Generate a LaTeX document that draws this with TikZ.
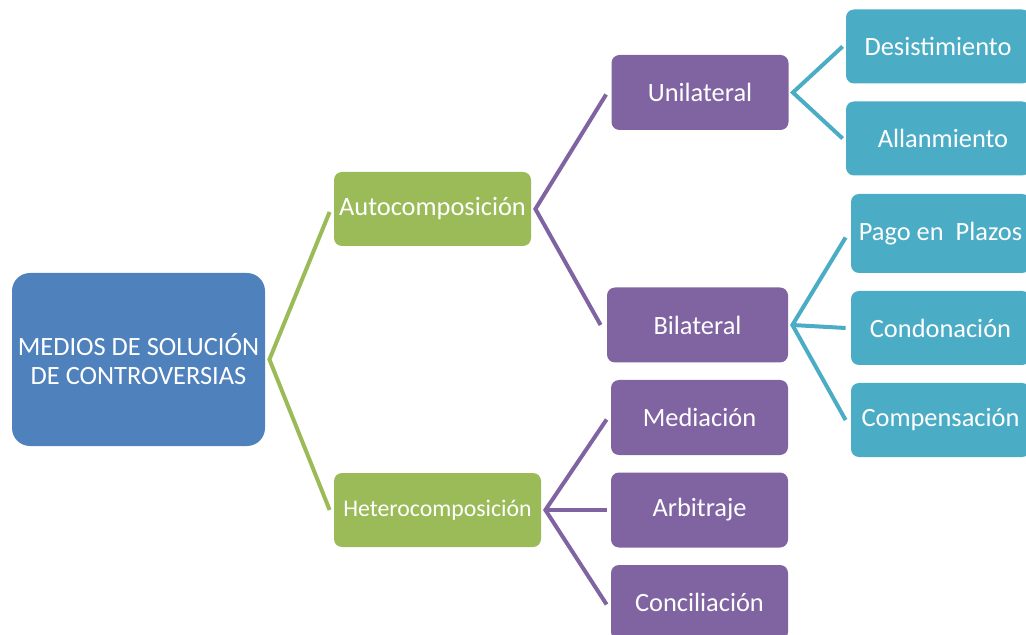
\documentclass[tikz,border=0pt]{standalone}
\usepackage{fontspec}
\setmainfont{Carlito}
\usepackage{tikz}

\definecolor{rootblue}{HTML}{4F81BD}
\definecolor{levelgreen}{HTML}{9BBB59}
\definecolor{levelpurple}{HTML}{8064A2}
\definecolor{levelteal}{HTML}{4BACC6}

\begin{document}
\begin{tikzpicture}[x=0.5pt,y=-0.5pt]

	\tikzstyle{any box}=[rounded corners=4pt, text=white, inner sep=0pt, align=center, font=\fontsize{13.2}{14.5}\selectfont];
	\tikzstyle{root box}=[any box, fill=rootblue, rounded corners=9pt, minimum width=126.5pt, minimum height=86.5pt];
	\tikzstyle{green box}=[any box, fill=levelgreen, minimum height=37pt];
	\tikzstyle{purple box}=[any box, fill=levelpurple, minimum width=88.5pt, minimum height=37.5pt];
	\tikzstyle{teal box}=[any box, fill=levelteal, minimum width=92pt, minimum height=37pt];
	\tikzstyle{green link}=[levelgreen, line width=2pt];
	\tikzstyle{purple link}=[levelpurple, line width=2pt];
	\tikzstyle{teal link}=[levelteal, line width=2pt];

	\useasboundingbox (0,0) rectangle (1026,635);

	\node[root box] (medios) at (138.5,359.5) {MEDIOS DE SOLUCIÓN\\DE CONTROVERSIAS};

	\node[green box, minimum width=98.5pt] (auto) at (432.5,209) {Autocomposición};
	\node[green box, minimum width=103.5pt, font=\fontsize{11.9}{14}\selectfont] (hetero) at (437.5,510) {Heterocomposición};

	\node[purple box] (uni) at (700,92.5) {Unilateral};
	\node[purple box, minimum width=90.5pt] (bi) at (697.5,325) {Bilateral};
	\node[purple box] (media) at (699.5,417.5) {Mediación};
	\node[purple box] (arbi) at (699.5,510) {Arbitraje};
	\node[purple box] (conci) at (699.5,602.5) {Conciliación};

	\node[teal box] (desis) at (938,46.5) {Desistimiento};
	\node[teal box] (allan) at (938,138.5) {\hspace{5pt}Allanmiento};
	\node[teal box, minimum width=89.5pt, minimum height=39.5pt] (pago) at (940.5,233.5) {Pago en \ Plazos};
	\node[teal box, minimum width=89.5pt] (condo) at (940.5,328) {Condonación};
	\node[teal box, minimum width=89.5pt] (compe) at (940.5,420) {Compensación};

	% links
	\draw[green link] ([xshift=-2pt,yshift=-1.5pt]auto.west) -- ([xshift=2pt]medios.east) -- ([xshift=-2pt]hetero.west);

	\draw[purple link] ([xshift=-2.5pt,yshift=-1pt]uni.west) -- ([xshift=2pt]auto.east) -- ([xshift=-3pt]bi.west);
	\draw[purple link] ([xshift=-2pt,yshift=-1pt]media.west) -- ([xshift=2pt]hetero.east) -- ([xshift=-2pt,yshift=-1pt]conci.west);
	\draw[purple link] ([xshift=2pt]hetero.east) -- ([xshift=-2pt]arbi.west);

	\draw[teal link] ([xshift=-1.5pt]desis.west) -- ([xshift=2pt]uni.east) -- ([xshift=-1.5pt]allan.west);
	\draw[teal link] ([xshift=-2.5pt,yshift=-2pt]pago.west) -- ([xshift=2pt]bi.east) -- ([xshift=-2.5pt]compe.west);
	\draw[teal link] ([xshift=2pt]bi.east) -- ([xshift=-2.5pt]condo.west);

\end{tikzpicture}
\end{document}
